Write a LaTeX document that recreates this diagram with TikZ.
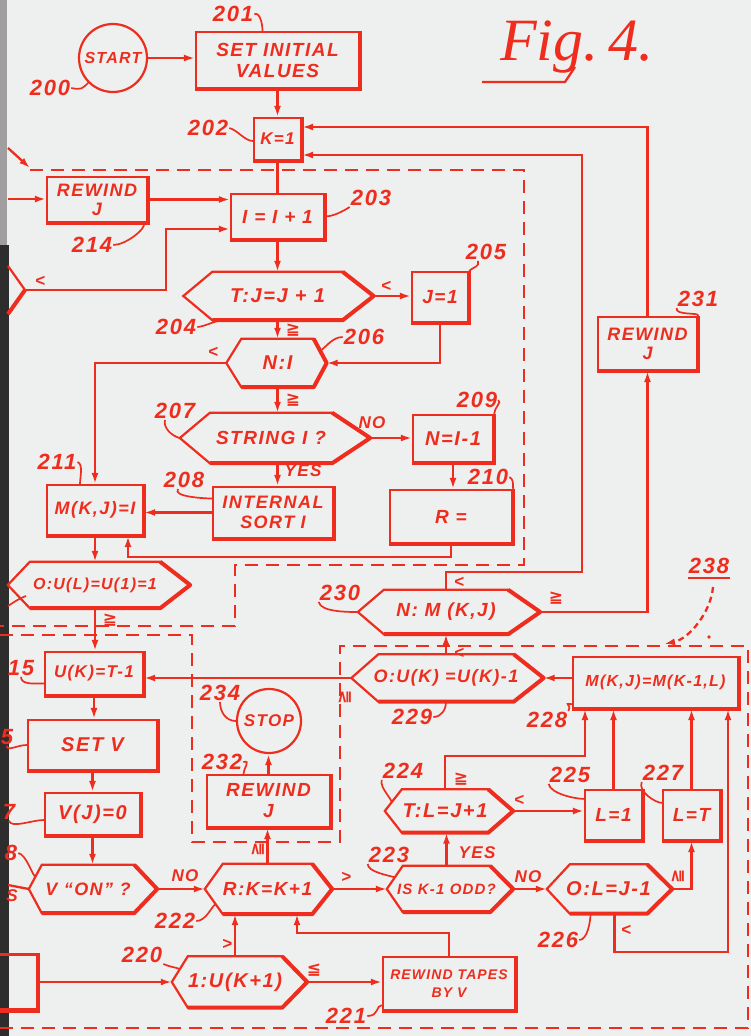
\documentclass[tikz,border=0pt]{standalone}
\usepackage{fontspec}
\setmainfont{Liberation Sans}
\newfontfamily\lett[LetterSpace=8]{Liberation Sans}
\newfontfamily\symfont{DejaVu Sans}
\newfontfamily\figfont{Liberation Serif}
\usetikzlibrary{arrows.meta,calc}
\definecolor{ink}{RGB}{238,45,30}
\definecolor{paper}{RGB}{237,240,238}
\definecolor{stripA}{RGB}{160,158,158}
\definecolor{stripB}{RGB}{45,45,45}
\newcommand\LFont[2]{\lett\bfseries\itshape\fontsize{#1}{#2}\selectfont}
\tikzset{
 ln/.style={draw=ink, line width=2.3pt},
 arr/.style={draw=ink, line width=2.3pt, -{Latex[length=11pt,width=7pt]}},
 box/.style={draw=ink, line width=2.2pt, rectangle, inner sep=0pt, align=center, text=ink, font=\LFont{19}{21}},
 circnode/.style={draw=ink, line width=2.2pt, circle, inner sep=0pt, text=ink, font=\LFont{16}{17}},
 hexbody/.style={rectangle, inner sep=0pt, text=ink},
 hexline/.style={draw=ink, line width=2.2pt},
 edge3/.style={draw=ink, line width=4pt},
 num/.style={text=ink, inner sep=1pt, font=\LFont{22}{22}},
 lead/.style={draw=ink, line width=1.7pt},
 sym/.style={text=ink, inner sep=0pt, font=\LFont{17}{17}},
 gsym/.style={text=ink, inner sep=0pt, font=\symfont\bfseries\fontsize{17}{17}\selectfont},
 dashb/.style={draw=ink, line width=2.2pt, dash pattern=on 13pt off 8pt},
}
\newcommand\hexa[9]{%
 \node[hexbody, minimum width=#4pt, minimum height=#5pt, font=\LFont{#8}{#8}] (#1) at (#2,#3) {\makebox[0pt]{#9}};
 \coordinate (#1-l) at ($(#1.west)+(-#6pt,0)$);
 \coordinate (#1-r) at ($(#1.east)+(#7pt,0)$);
 \draw[hexline, line join=miter] (#1-l) -- (#1.north west) -- (#1.north east) -- (#1-r) -- (#1.south east) -- (#1.south west) -- cycle;
 \draw[edge3, line join=round] (#1.north east) -- (#1-r) -- (#1.south east) -- (#1.south west);
}
\newcommand\boxedge[1]{\draw[edge3] (#1.north east) -- (#1.south east) -- (#1.south west);}
\begin{document}
\begin{tikzpicture}[x=1pt,y=-1pt]
\fill[paper] (0,0) rectangle (751,1036);
\useasboundingbox (0,0) rectangle (751,1036);
\fill[stripA] (0,0) rectangle (7,245);
\fill[stripB] (0,245) rectangle (9,1036);

% title
\node[text=ink, font=\figfont\itshape\fontsize{60}{60}\selectfont, inner sep=0pt, anchor=base west] (fig) at (500,60) {Fig.\,4.};
\draw[ln] (482,82) -- (565,82) -- (575,67);

% nodes
\node[circnode, minimum size=68pt] (start) at (113,58) {START};
\node[box, minimum width=163pt, minimum height=56pt] (n201) at (277.5,60) {SET INITIAL\\VALUES};
\node[box, minimum width=47pt, minimum height=42pt, font=\LFont{17}{18}] (n202) at (277.5,139) {K=1};
\node[box, minimum width=100pt, minimum height=45pt, font=\LFont{18}{19}] (n214) at (97,199.5) {REWIND\\J};
\node[box, minimum width=93pt, minimum height=45pt] (n203) at (277.5,216.5) {I = I + 1};
\hexa{n204}{277.5}{296}{130}{48}{29}{31}{20}{T:J=J + 1}
\node[box, minimum width=56pt, minimum height=50pt] (n205) at (440,297) {J=1};
\hexa{n206}{277.5}{363}{72}{48}{15}{13}{20}{N:I}
\hexa{n207}{271}{438}{122}{50}{30}{38}{19}{STRING I ?}
\node[box, minimum width=120pt, minimum height=51pt, font=\LFont{18}{20}] (n208) at (273,512.5) {INTERNAL\\SORT I};
\node[box, minimum width=80pt, minimum height=47pt, font=\LFont{20}{21}] (n209) at (453,438.5) {N=I-1};
\node[box, minimum width=122pt, minimum height=53pt] (n210) at (451,516.5) {R =};
\node[box, minimum width=96pt, minimum height=50pt, font=\LFont{18}{19}] (n211) at (95,510) {M(K,J)=I};
\hexa{n212}{95}{585}{130}{46}{22}{30}{16}{O:U(L)=U(1)=1}
\node[box, minimum width=98pt, minimum height=43pt, font=\LFont{17}{18}] (n215) at (94,673.5) {U(K)=T-1};
\node[box, minimum width=129pt, minimum height=50pt, font=\LFont{20}{21}] (n216) at (92.5,745) {SET V};
\node[box, minimum width=95pt, minimum height=42pt, font=\LFont{20}{21}] (n217) at (92.5,814) {V(J)=0};
\hexa{n218}{88}{889}{92}{48}{13}{23}{18}{V “ON” ?}
\hexa{n222}{267.5}{889}{89}{50}{18}{20}{19}{R:K=K+1}
\node[box, minimum width=123pt, minimum height=52pt] (n232) at (268.5,801) {REWIND\\J};
\node[circnode, minimum size=64pt, font=\LFont{17}{18}] (n234) at (269,721) {STOP};
\hexa{n220}{235}{982}{94}{51}{16}{25}{20}{1:U(K+1)}
\node[box, minimum width=132pt, minimum height=53pt, font=\LFont{14}{18}] (n221) at (449,983.5) {REWIND TAPES\\BY V};
\hexa{n223}{446.5}{889}{87}{46}{16}{23}{15}{IS K-1 ODD?}
\hexa{n224}{445}{811}{86}{43}{17}{25}{20}{T:L=J+1}
\node[box, minimum width=57pt, minimum height=50pt] (n225) at (613.5,815) {L=1};
\node[box, minimum width=57pt, minimum height=50pt] (n227) at (691.5,815) {L=T};
\hexa{n226}{608.5}{889}{77}{49}{23}{25}{20}{O:L=J-1}
\node[box, minimum width=165pt, minimum height=51pt, font=\LFont{16}{18}] (n228) at (655.5,682.5) {M(K,J)=M(K-1,L)};
\hexa{n229}{446}{678}{135}{47}{27}{30}{18}{O:U(K) =U(K)-1}
\hexa{n230}{446}{612}{124}{44}{26}{32}{19}{N: M (K,J)}
\node[box, minimum width=99pt, minimum height=53pt, font=\LFont{18}{19}] (n231) at (647.5,343.5) {REWIND\\J};

% off-page fragments
\coordinate (inL) at (8,199);
\coordinate (ltip) at (25,290);
\draw[hexline] (8,266) -- (ltip) -- (8,314);
\draw[edge3] (ltip) -- (8,314);
\node[box, minimum width=50pt, minimum height=55pt] (lbox) at (12,982) {};
\coordinate (yesout) at (8,885);

\foreach \n in {n201,n202,n214,n203,n205,n208,n209,n210,n211,n215,n216,n217,n232,n221,n225,n227,n228,n231,lbox} {\boxedge{\n}}

% bend points
\coordinate (c6) at (166,229);
\coordinate (c17) at (128,557);
\coordinate (c30) at (297,933);
\coordinate (c36) at (585,756);
\coordinate (c40) at (728,952);
\coordinate (c43) at (582,572);
\coordinate (top2) at (582,155);
\coordinate (top1) at (0,127);

% connectors
\draw[arr] (start.east) -- (start.east -| n201.west);
\draw[arr] (n201.south) -- (n202.north);
\draw[ln] (n202.south) -- (n203.north);
\draw[arr] (inL) -- (inL -| n214.west);
\draw[arr] (n214.east) -- (n214.east -| n203.west);
\draw[arr] (ltip) -| (c6) -- (c6 -| n203.west);
\draw[arr] (n203.south) -- (n204.north);
\draw[arr] (n204-r) -- (n204-r -| n205.west);
\draw[arr] (n205.south) |- (n206-r);
\draw[arr] (n204.south) -- (n206.north);
\draw[arr] (n206-l) -| (n211.north);
\draw[arr] (n206.south) -- (n206.south |- n207.north);
\draw[arr] (n207-r) -- (n207-r -| n209.west);
\draw[arr] (n207.south -| n206.south) -- (n208.north -| n206.south);
\draw[arr] (n209.south) -- (n209.south |- n210.north);
\draw[arr] (n208.west) -- (n208.west -| n211.east);
\draw[arr] (n210.south) |- (c17) -- (c17 |- n211.south);
\draw[arr] (n211.south) -- (n211.south |- n212.north);
\draw[arr] (n212.south) -- (n212.south |- n215.north);
\draw[arr] (n229-l) -- (n229-l -| n215.east);
\draw[arr] (n215.south) -- (n215.south |- n216.north);
\draw[arr] (n216.south) -- (n216.south |- n217.north);
\draw[arr] (n217.south) -- (n217.south |- n218.north);
\draw[ln] (n218-l) -- (yesout);
\draw[arr] (n218-r) -- (n222-l);
\draw[arr] (n222.north) -- (n222.north |- n232.south);
\draw[arr] (n232.north) -- (n232.north |- n234.south);
\draw[arr] (n222-r) -- (n223-l);
\draw[arr] (n220.north) -- (n220.north |- n222.south);
\draw[arr] (n221.north) |- (c30) -- (c30 |- n222.south);
\draw[arr] (lbox.east) -- (n220-l);
\draw[arr] (n220-r) -- (n220-r -| n221.west);
\draw[arr] (n223.north) -- (n223.north |- n224.south);
\draw[arr] (n223-r) -- (n226-l);
\draw[arr] (n224-r) -- (n224-r -| n225.west);
\draw[arr] (n224.north) |- (c36) -- (c36 |- n228.south);
\draw[arr] (n225.north) -- (n225.north |- n228.south);
\draw[arr] (n227.north) -- (n227.north |- n228.south);
\draw[arr] (n226-r) -| (n227.south);
\draw[arr] ([xshift=6pt]n226.south) |- (c40) -- (c40 |- n228.south);
\draw[arr] (n228.west |- n229-r) -- (n229-r);
\draw[arr] (n229.north) -- (n229.north |- n230.south);
\draw[arr] (n230.north) |- (c43) -- (top2) -- (top2 -| n202.east);
\draw[arr] (n230-r) -| (n231.south);
\draw[arr] (n231.north) -- (n231.north |- top1) -- (top1 -| n202.east);

% dashed boundaries
\draw[dashb] (30,170) -- (524,170) -- (524,565) -- (235,565) -- (235,626) -- (0,626);
\draw[dashb] (0,635) -- (192,635) -- (192,842) -- (340,842) -- (340,646) -- (748,646) -- (748,1028) -- (0,1028);
\coordinate (dc) at (30,168);
\coordinate (dcs) at (8,148);
\draw[arr] (dcs) -- (dc);

% 238
\node[num] (l238) at (709,566) {238};
\draw[ln] ([yshift=-3pt]l238.south west) -- ([yshift=-3pt]l238.south east);
\draw[ln, dash pattern=on 6pt off 4pt, -{Latex[length=11pt,width=7pt]}] ([xshift=4pt,yshift=-12pt]l238.south) .. controls +(-2,25) and +(25,-5) .. (664,644);
\fill[ink] (709,637) circle (1.8pt);

% branch symbols
\node[sym] (s1) at (40,281) {<};
\node[sym] (s2) at (386,286) {<};
\node[gsym] (s3) at (293,330) {≧};
\node[sym] (s4) at (213,352) {<};
\node[gsym] (s5) at (293,400) {≧};
\node[sym] (s6) at (372,423) {NO};
\node[sym] (s7) at (303,471) {YES};
\node[gsym] (s8) at (110,620) {≧};
\node[gsym, rotate=90] (s9) at (345,697) {≧};
\node[sym] (s10) at (185,876) {NO};
\node[gsym, rotate=90] (s11) at (258,849) {≧};
\node[sym] (s12) at (346,877) {>};
\node[sym] (s13) at (227,944) {>};
\node[gsym] (s14) at (314,970) {≦};
\node[sym] (s15) at (477,853) {YES};
\node[sym] (s16) at (528,877) {NO};
\node[sym] (s17) at (519,800) {<};
\node[gsym] (s18) at (461,779) {≧};
\node[gsym, rotate=90] (s19) at (678,876) {≧};
\node[sym] (s20) at (626,930) {<};
\node[sym] (s21) at (459,653) {<};
\node[sym] (s22) at (459,582) {<};
\node[gsym] (s23) at (556,598) {≧};
\node[sym] (s24) at (12,896) {S};

% reference numerals
\node[num] (l200) at (50,88) {200};
\node[num] (l201) at (233,14) {201};
\node[num] (l202) at (208,128) {202};
\node[num] (l203) at (371,198) {203};
\node[num] (l214) at (92,245) {214};
\node[num] (l204) at (176,327) {204};
\node[num] (l205) at (486,252) {205};
\node[num] (l206) at (364,337) {206};
\node[num] (l207) at (175,411) {207};
\node[num] (l208) at (184,480) {208};
\node[num] (l209) at (477,400) {209};
\node[num] (l210) at (488,477) {210};
\node[num] (l211) at (57,462) {211};
\node[num] (l215) at (21,668) {15};
\node[num] (l216) at (7,737) {5};
\node[num] (l217) at (9,812) {7};
\node[num] (l218) at (11,853) {8};
\node[num] (l220) at (142,955) {220};
\node[num] (l221) at (346,1016) {221};
\node[num] (l222) at (175,921) {222};
\node[num] (l223) at (389,855) {223};
\node[num] (l224) at (403,771) {224};
\node[num] (l225) at (570,775) {225};
\node[num] (l226) at (558,940) {226};
\node[num] (l227) at (663,773) {227};
\node[num] (l228) at (547,720) {228};
\node[num] (l229) at (412,717) {229};
\node[num] (l230) at (340,593) {230};
\node[num] (l231) at (698,299) {231};
\node[num] (l232) at (222,762) {232};
\node[num] (l234) at (220,693) {234};

% leaders
\draw[lead] (l200.east) .. controls +(10,2) and +(-6,6) .. (start.south west);
\draw[lead] (l201.east) .. controls +(6,-2) and +(0,-6) .. ([xshift=-15pt]n201.north);
\draw[lead] (l202.east) .. controls +(8,2) and +(-8,0) .. ([yshift=-2pt]n202.west);
\draw[lead] (l203.south west) .. controls +(-6,4) and +(8,0) .. (n203.east);
\draw[lead] (l214.east) .. controls +(12,0) and +(2,6) .. ([xshift=-4pt]n214.south east);
\draw[lead] (l204.east) .. controls +(6,0) and +(-6,0) .. ([xshift=10pt]n204.south west);
\draw[lead] ([xshift=-8pt]l205.south) .. controls +(2,6) and +(4,-4) .. (n205.north east);
\draw[lead] (l206.west) .. controls +(-10,0) and +(6,-4) .. ($(n206.north east)!0.5!(n206-r)$);
\draw[lead] ([xshift=-10pt]l207.south) .. controls +(-2,8) and +(-8,-2) .. (n207-l);
\draw[lead] ([xshift=-6pt]l208.south) .. controls +(-6,8) and +(-6,0) .. ([yshift=14pt]n208.west);
\draw[lead] (l209.east) .. controls +(4,2) and +(0,-6) .. (n209.north east);
\draw[lead] (l210.east) .. controls +(4,2) and +(0,-6) .. (n210.north east);
\draw[lead] (l211.east) .. controls +(6,2) and +(0,-6) .. ([xshift=-15pt]n211.north);
\draw[lead] (8,606) .. controls (14,602) and (20,598) .. (26,596);
\draw[lead] (l215.south) .. controls +(0,8) and +(-10,0) .. ([yshift=-10pt]n215.west);
\draw[lead] (l216.south) .. controls +(0,6) and +(-10,0) .. (n216.west);
\draw[lead] (l217.south) .. controls +(2,8) and +(-12,0) .. ([yshift=-6pt]n217.west);
\draw[lead] (l218.east) .. controls +(8,2) and +(-4,-4) .. ($(n218-l)!0.5!(n218.north west)$);
\draw[lead] (l220.south east) .. controls +(10,4) and +(-4,-2) .. ($(n220-l)!0.5!(n220.north west)$);
\draw[lead] (l221.east) .. controls +(12,0) and +(-6,0) .. ([yshift=6pt]n221.south west);
\draw[lead] (l222.east) .. controls +(10,0) and +(-4,2) .. ($(n222-l)!0.6!(n222.south west)$);
\draw[lead] (l223.south west) .. controls +(0,8) and +(-6,-2) .. ($(n223-l)!0.5!(n223.north west)$);
\draw[lead] (l224.south west) .. controls +(-2,8) and +(0,-4) .. ($(n224-l)!0.4!(n224.north west)$);
\draw[lead] (l225.south west) .. controls +(2,10) and +(-8,0) .. ([yshift=-10pt]n225.north west);
\draw[lead] (l227.south west) .. controls +(-4,10) and +(-6,0) .. ([yshift=-14pt]n227.north west);
\draw[lead] (l226.east) .. controls +(8,0) and +(0,8) .. ([xshift=-18pt]n226.south);
\draw[lead] (l228.north east) .. controls +(4,-8) and +(-10,0) .. ([yshift=5pt]n228.south west);
\draw[lead] (l229.east) .. controls +(8,0) and +(0,8) .. (n229.south);
\draw[lead] (l230.south west) .. controls +(2,10) and +(-10,0) .. (n230-l);
\draw[lead] (l231.south west) .. controls +(-2,8) and +(2,-4) .. (n231.north east);
\draw[lead] (l232.east) .. controls +(8,-2) and +(0,-6) .. ([xshift=-25pt]n232.north);
\draw[lead] (l234.south) .. controls +(0,10) and +(-10,0) .. (n234.west);
\end{tikzpicture}
\end{document}
